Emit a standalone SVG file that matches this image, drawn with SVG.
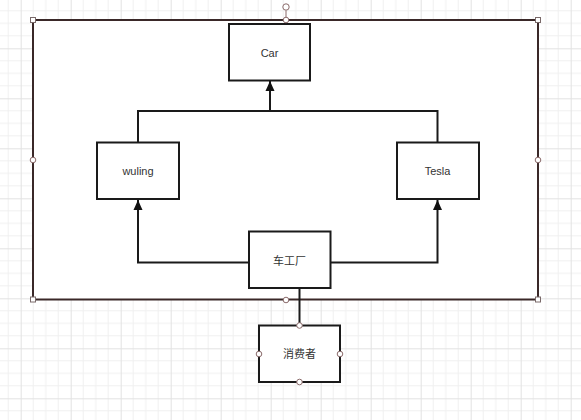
<svg xmlns="http://www.w3.org/2000/svg" width="581" height="420" viewBox="0 0 581 420">
<defs>
<pattern id="grid" patternUnits="userSpaceOnUse" x="20.7" y="48.3" width="50" height="50">
<path d="M12.5 0V50M25 0V50M37.5 0V50M0 12.5H50M0 25H50M0 37.5H50" stroke="#f0f0f0" stroke-width="1" fill="none"/>
<path d="M0.5 0V50M0 0.5H50" stroke="#e2e2e2" stroke-width="1" fill="none"/>
</pattern>
<marker id="arr" viewBox="0 0 10 14" refX="10" refY="7" markerWidth="10" markerHeight="14" markerUnits="userSpaceOnUse" orient="auto">
<path d="M0 2.5L10 7L0 11.5Z" fill="#111"/>
</marker>
<style>
.box{fill:#fff;stroke:#1a1a1a;stroke-width:2}
.lbl{font-family:"Liberation Sans","Noto Sans CJK SC",sans-serif;font-size:11px;fill:#333;text-anchor:middle;dominant-baseline:central}
.conn{fill:none;stroke:#1a1a1a;stroke-width:2}
.hs{fill:#fff;stroke:#7a6a6a;stroke-width:1}
.hc{fill:#fff;stroke:#8a6a6a;stroke-width:1}
</style>
</defs>
<rect width="581" height="420" fill="#fff"/>
<rect width="581" height="420" fill="url(#grid)"/>
<g id="container">
<rect x="33" y="20" width="505" height="279.5" fill="#fff" stroke="#3a2828" stroke-width="2"/>
</g>
<g id="connectors">
<path class="conn" d="M138 142V111H437.5V142"/>
<path class="conn" d="M270 111V81" marker-end="url(#arr)"/>
<path class="conn" d="M249 262.5H138V200" marker-end="url(#arr)"/>
<path class="conn" d="M330.5 262.5H437.5V200" marker-end="url(#arr)"/>
<path class="conn" d="M299.5 288V325"/>
</g>
<g id="car">
<rect class="box" x="229" y="24" width="81" height="56.5"/>
<text class="lbl" x="269.5" y="52.5">Car</text>
</g>
<g id="wuling">
<rect class="box" x="97" y="142.5" width="82" height="56.5"/>
<text class="lbl" x="138" y="171">wuling</text>
</g>
<g id="tesla">
<rect class="box" x="397" y="142.5" width="82" height="56.5"/>
<text class="lbl" x="437.5" y="171">Tesla</text>
</g>
<g id="factory">
<rect class="box" x="249" y="231.5" width="81.5" height="56.5"/>
<text class="lbl" x="289.5" y="261">车工厂</text>
</g>
<g id="consumer">
<rect class="box" x="259" y="325.5" width="81" height="56.5"/>
<text class="lbl" x="299.5" y="354">消费者</text>
</g>
<g id="handles">
<line x1="286" y1="10.5" x2="286" y2="20" stroke="#8a6a6a" stroke-width="1"/>
<circle class="hc" cx="286" cy="7" r="3.2"/>
<rect class="hs" x="30.5" y="17.5" width="5" height="5"/>
<rect class="hs" x="535.5" y="17.5" width="5" height="5"/>
<rect class="hs" x="30.5" y="297" width="5" height="5"/>
<rect class="hs" x="535.5" y="297" width="5" height="5"/>
<circle class="hc" cx="286" cy="20" r="2.8"/>
<circle class="hc" cx="286" cy="300" r="2.8"/>
<circle class="hc" cx="33" cy="160" r="2.8"/>
<circle class="hc" cx="538" cy="160" r="2.8"/>
<circle class="hc" cx="299.5" cy="325.5" r="2.8"/>
<circle class="hc" cx="299.5" cy="382" r="2.8"/>
<circle class="hc" cx="259" cy="354" r="2.8"/>
<circle class="hc" cx="340" cy="354" r="2.8"/>
</g>
</svg>
